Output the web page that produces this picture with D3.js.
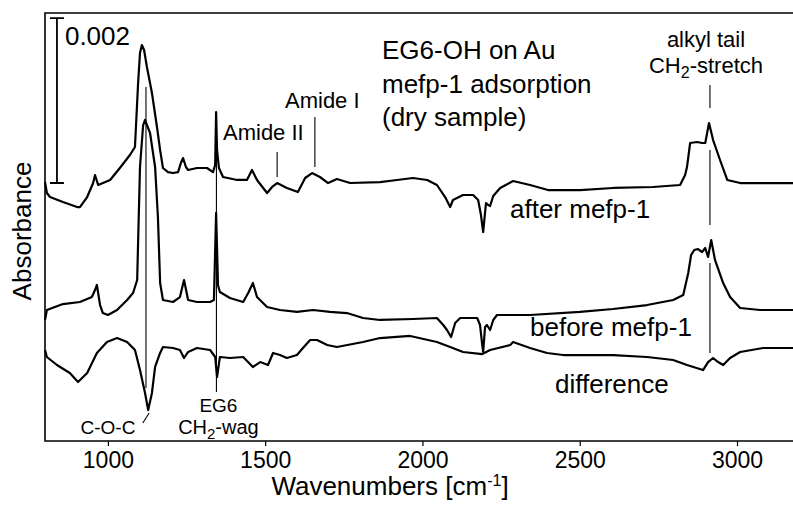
<!DOCTYPE html>
<html>
<head>
<meta charset="utf-8">
<script src="https://cdn.jsdelivr.net/npm/d3@7"></script>
<style>
  body { margin: 0; background: #fff; }
  svg text { font-family: "Liberation Sans", Arial, Helvetica, sans-serif; fill: #000; }
</style>
</head>
<body>
<div id="chart"></div>
<script>
// wavenumber [cm-1], absorbance [1e-3] (traces stacked as in the figure)
const afterMefp = [
  [800,3.127],[806,2.994],[816,2.945],[857,2.885],[902,2.824],[911,2.824],[934,2.945],[953,3.115],
  [959,3.212],[969,3.091],[1007,3.152],[1038,3.297],[1070,3.455],[1086,3.552],[1096,4.327],[1102,4.691],
  [1108,4.788],[1115,4.727],[1124,4.521],[1140,4.206],[1156,3.794],[1166,3.515],[1175,3.297],[1191,3.248],
  [1207,3.236],[1223,3.248],[1232,3.358],[1239,3.418],[1248,3.309],[1255,3.273],[1283,3.297],[1315,3.297],
  [1334,3.248],[1341,3.333],[1344,3.976],[1347,3.515],[1353,3.297],[1366,3.188],[1411,3.152],[1442,3.152],
  [1458,3.273],[1474,3.152],[1506,2.994],[1522,3.067],[1538,3.115],[1569,3.055],[1604,3.006],[1627,3.176],
  [1649,3.236],[1674,3.188],[1700,3.115],[1728,3.164],[1770,3.115],[1865,3.127],[1919,3.152],[1970,3.176],
  [2015,3.152],[2046,3.091],[2072,2.945],[2088,2.824],[2097,2.909],[2129,2.970],[2161,2.970],[2177,2.909],
  [2186,2.727],[2193,2.521],[2202,2.873],[2209,2.848],[2215,2.836],[2225,2.958],[2247,3.055],[2288,3.139],
  [2342,3.091],[2399,3.030],[2501,3.030],[2606,3.055],[2733,3.067],[2819,3.091],[2835,3.212],[2841,3.309],
  [2851,3.600],[2873,3.612],[2889,3.600],[2899,3.600],[2905,3.721],[2911,3.842],[2924,3.636],[2946,3.394],
  [2969,3.152],[3010,3.115],[3178,3.115]
];

const beforeMefp = [
  [800,1.455],[806,1.576],[857,1.648],[911,1.673],[949,1.733],[959,1.818],[965,1.879],[975,1.636],
  [984,1.539],[1000,1.515],[1029,1.576],[1061,1.697],[1080,1.782],[1093,1.939],[1102,3.309],[1112,3.818],
  [1118,3.879],[1134,3.721],[1150,3.309],[1159,2.703],[1166,1.903],[1175,1.697],[1207,1.673],[1229,1.733],
  [1242,1.939],[1255,1.697],[1283,1.673],[1325,1.673],[1337,1.697],[1344,2.752],[1350,1.879],[1356,1.794],
  [1388,1.721],[1430,1.673],[1446,1.782],[1461,1.903],[1474,1.733],[1506,1.612],[1547,1.576],[1601,1.552],
  [1652,1.576],[1706,1.552],[1760,1.539],[1811,1.479],[1865,1.455],[1970,1.467],[2046,1.479],[2066,1.394],
  [2078,1.333],[2091,1.248],[2104,1.418],[2120,1.479],[2174,1.479],[2183,1.394],[2190,1.152],[2193,1.067],
  [2199,1.370],[2205,1.394],[2215,1.333],[2225,1.455],[2237,1.515],[2342,1.515],[2501,1.552],[2606,1.588],
  [2714,1.636],[2797,1.697],[2829,1.758],[2845,2.024],[2854,2.242],[2864,2.303],[2876,2.315],[2889,2.279],
  [2899,2.327],[2908,2.218],[2918,2.424],[2930,2.182],[2956,1.903],[2978,1.733],[3010,1.600],[3073,1.576],
  [3178,1.576]
];

const difference = [
  [800,1.091],[806,1.006],[838,0.909],[879,0.812],[905,0.703],[934,0.812],[965,1.055],[997,1.188],
  [1029,1.236],[1061,1.188],[1086,1.091],[1102,0.848],[1118,0.570],[1128,0.364],[1140,0.570],[1150,0.885],
  [1166,1.055],[1175,1.127],[1207,1.115],[1229,1.091],[1242,0.994],[1255,1.067],[1283,1.115],[1325,1.091],
  [1341,1.006],[1347,0.764],[1356,1.006],[1388,0.994],[1430,1.006],[1461,0.885],[1484,0.945],[1509,0.909],
  [1525,1.055],[1547,1.030],[1569,0.994],[1601,1.030],[1620,1.115],[1643,1.212],[1665,1.212],[1697,1.152],
  [1728,1.127],[1811,1.188],[1865,1.236],[1961,1.261],[2046,1.188],[2088,1.127],[2129,1.067],[2190,1.042],
  [2215,1.091],[2279,1.152],[2288,1.188],[2342,1.115],[2396,1.055],[2447,1.030],[2606,1.030],[2714,1.006],
  [2797,0.970],[2841,0.909],[2892,0.848],[2908,0.945],[2924,0.994],[2940,0.945],[2956,0.909],[2978,0.994],
  [3010,1.067],[3083,1.115],[3178,1.115]
];

const xTicks = [1000, 1500, 2000, 2500, 3000];

// band marker lines: wavenumber, from, to (absorbance units)
const bandMarkers = [
  [1121, 4.279, 0.630],
  [1345, 3.976, 0.582],
  [1538, 3.491, 3.188],
  [1658, 3.915, 3.309],
  [2914, 4.303, 4.024],
  [2914, 3.515, 2.606],
  [2914, 2.145, 1.055]
];

const margin = { top: 13, right: 0, bottom: 65, left: 45 },
      width = 793 - margin.left - margin.right,
      height = 506 - margin.top - margin.bottom;

const svg = d3.select("#chart").append("svg")
    .attr("width", 793)
    .attr("height", 506)
  .append("g")
    .attr("transform", "translate(" + margin.left + "," + margin.top + ")");

const x = d3.scaleLinear()
    .domain([800, 3178])
    .range([0, width]);

const y = d3.scaleLinear()
    .domain([0, 5.176])
    .range([height - 1, 0]);

const line = d3.line()
    .x(d => x(d[0]))
    .y(d => y(d[1]));

// frame: left, top, bottom
svg.append("path")
    .attr("d", `M${width},0 H0 V${height} H${width}`)
    .attr("fill", "none")
    .attr("stroke", "black")
    .attr("stroke-width", 1.6);

const xAxis = svg.append("g")
    .attr("transform", "translate(0," + height + ")")
    .call(d3.axisBottom(x).tickValues(xTicks).tickSize(5).tickPadding(6).tickFormat(d3.format("d")));
xAxis.select(".domain").remove();
xAxis.selectAll("line").attr("stroke-width", 1.2);
xAxis.selectAll("text")
    .style("font-size", "23px")
    .style("font-family", "'Liberation Sans', Arial, sans-serif");

[afterMefp, beforeMefp, difference].forEach(s => {
  svg.append("path")
      .datum(s)
      .attr("d", line)
      .attr("fill", "none")
      .attr("stroke", "black")
      .attr("stroke-width", 2.2)
      .attr("stroke-linejoin", "round");
});

svg.selectAll(".marker")
  .data(bandMarkers)
  .enter().append("line")
    .attr("class", "marker")
    .attr("x1", d => x(d[0]))
    .attr("x2", d => x(d[0]))
    .attr("y1", d => y(d[1]))
    .attr("y2", d => y(d[2]))
    .attr("stroke", "black")
    .attr("stroke-width", 1.1);

// little leader to C-O-C label
svg.append("line")
    .attr("x1", x(1131)).attr("y1", y(0.327))
    .attr("x2", x(1111)).attr("y2", y(0.206))
    .attr("stroke", "black")
    .attr("stroke-width", 1.1);

// scale bar 0.002
const barX = x(838);
svg.append("path")
    .attr("d", `M${barX - 7},${y(5.115)} H${barX + 7} M${barX},${y(5.115)} V${y(3.115)} M${barX - 7},${y(3.115)} H${barX + 7}`)
    .attr("fill", "none")
    .attr("stroke", "black")
    .attr("stroke-width", 1.8);
svg.append("text")
    .attr("x", barX + 8)
    .attr("y", 32)
    .style("font-size", "26px")
    .text("0.002");

// annotations
function label(tx, ty, size, anchor) {
  return svg.append("text")
      .attr("x", tx)
      .attr("y", ty)
      .attr("text-anchor", anchor || "start")
      .style("font-size", size + "px");
}

label(337, 46, 26).text("EG6-OH on Au");
label(337, 80, 26).text("mefp-1 adsorption");
label(337, 113, 26).text("(dry sample)");

label(465, 205, 26).text("after mefp-1");
label(485, 323, 26).text("before mefp-1");
label(510, 380, 26).text("difference");

label(178, 127, 22).text("Amide II");
label(240, 95, 22).text("Amide I");

label(661, 34, 22, "middle").text("alkyl tail");
const ch2 = label(661, 60, 22, "middle");
ch2.append("tspan").text("CH");
ch2.append("tspan").attr("dy", 5).style("font-size", "16px").text("2");
ch2.append("tspan").attr("dy", -5).text("-stretch");

label(63, 421, 19, "middle").text("C-O-C");
label(x(1345) + 2, 399, 19, "middle").text("EG6");
const wag = label(x(1345) + 2, 421, 20, "middle");
wag.append("tspan").text("CH");
wag.append("tspan").attr("dy", 5).style("font-size", "15px").text("2");
wag.append("tspan").attr("dy", -5).text("-wag");

// axis titles
const xt = svg.append("text")
    .attr("x", 390 - margin.left)
    .attr("y", height + margin.bottom - 11)
    .attr("text-anchor", "middle")
    .style("font-size", "26px");
xt.append("tspan").text("Wavenumbers [cm");
xt.append("tspan").attr("dy", -9).style("font-size", "16px").text("-1");
xt.append("tspan").attr("dy", 9).text("]");

svg.append("text")
    .attr("transform", "rotate(-90)")
    .attr("x", -(218))
    .attr("y", -14)
    .attr("text-anchor", "middle")
    .style("font-size", "26px")
    .text("Absorbance");
</script>
</body>
</html>
